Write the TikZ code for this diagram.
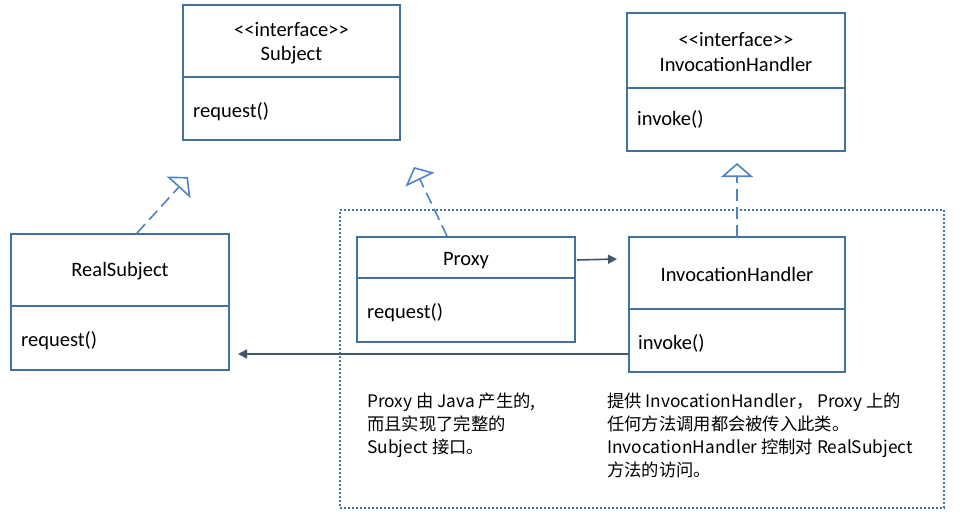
\documentclass[tikz,border=0pt]{standalone}
\usepackage{fontspec}
\setmainfont{Carlito}
\newfontfamily\cjk{Noto Sans CJK SC}
\usetikzlibrary{arrows.meta}
\definecolor{boxblue}{HTML}{41719C}
\definecolor{dashblue}{HTML}{4F84C4}
\definecolor{arrowgray}{HTML}{44546A}
\tikzset{
  umlbox/.style={draw=boxblue, line width=1.8pt, inner sep=0pt, outer sep=0pt, anchor=north west},
  lbl/.style={inner sep=0pt, font=\fontsize{20.5}{23}\selectfont},
  note/.style={inner sep=0pt, anchor=north west, align=left, font=\cjk\fontsize{17.3}{23}\selectfont},
  realize/.style={draw=dashblue, line width=1.6pt, dash pattern=on 12pt off 6pt, -{Triangle[open, length=14pt, width=32pt, line width=1.6pt, sep=0pt]}},
  assoc/.style={draw=arrowgray, line width=1.6pt, -{Triangle[length=9pt, width=9pt]}},
  divider/.style={draw=boxblue, line width=1.8pt}
}
\begin{document}
\begin{tikzpicture}[x=1pt,y=-1pt]
\useasboundingbox[fill=white] (0,0) rectangle (976,528);
% dotted frame
\node[draw=boxblue, line width=1.6pt, dash pattern=on 2pt off 2pt, inner sep=0pt, outer sep=0pt, anchor=north west, minimum width=604pt, minimum height=298pt] (frame) at (340,210) {};
% Subject
\node[umlbox, minimum width=217pt, minimum height=135pt] (subj) at (183,5) {};
\draw[divider] (183,77) -- (400,77);
\node[lbl] (subjst) at (291.5,29.5) {{<}{<}interface{>}{>}};
\node[lbl] (subjn) at (291.5,55.5) {Subject};
\node[lbl, anchor=west] (subjm) at (193,111.5) {request()};
% InvocationHandler interface
\node[umlbox, minimum width=218pt, minimum height=138pt] (ihi) at (627,13) {};
\draw[divider] (627,88) -- (845,88);
\node[lbl] (ihist) at (736,39.5) {{<}{<}interface{>}{>}};
\node[lbl] (ihin) at (736,64.5) {InvocationHandler};
\node[lbl, anchor=west] (ihim) at (637,119.5) {invoke()};
% RealSubject
\node[umlbox, minimum width=218pt, minimum height=136pt] (rs) at (11,234) {};
\draw[divider] (11,306) -- (229,306);
\node[lbl] (rsn) at (120,271.5) {RealSubject};
\node[lbl, anchor=west] (rsm) at (21,340.5) {request()};
% Proxy
\node[umlbox, minimum width=218pt, minimum height=105pt] (px) at (357,237) {};
\draw[divider] (357,278) -- (575,278);
\node[lbl] (pxn) at (466,260.5) {Proxy};
\node[lbl, anchor=west] (pxm) at (367,312.5) {request()};
% InvocationHandler
\node[umlbox, minimum width=216pt, minimum height=135pt] (ih) at (629,237) {};
\draw[divider] (629,309) -- (845,309);
\node[lbl] (ihn) at (737,274.5) {InvocationHandler};
\node[lbl, anchor=west] (ihm) at (638,343.5) {invoke()};
% realization arrows
\coordinate (rsfrom) at (137,233);
\coordinate (rstip) at (188,177);
\draw[realize] (rsfrom) -- (rstip);
\coordinate (pxfrom) at (447,236);
\coordinate (pxtip) at (414,167);
\draw[realize] (pxfrom) -- (pxtip);
\coordinate (ihtip) at (737,163);
\draw[realize] (ih.north -| ihtip) -- (ihtip);
% associations
\coordinate (pxout) at (577,260);
\coordinate (ihin2) at (617,259);
\draw[assoc] (pxout) -- (ihin2);
\coordinate (rsin) at (238,354);
\draw[assoc] (ih.west |- rsin) -- (rsin);
% notes
\node[note] (note1) at (367,393) {Proxy 由 Java 产生的,\\而且实现了完整的\\Subject 接口。};
\node[note] (note2) at (607,393) {提供 InvocationHandler，~Proxy 上的\\任何方法调用都会被传入此类。\\InvocationHandler 控制对 RealSubject\\方法的访问。};
\end{tikzpicture}
\end{document}
